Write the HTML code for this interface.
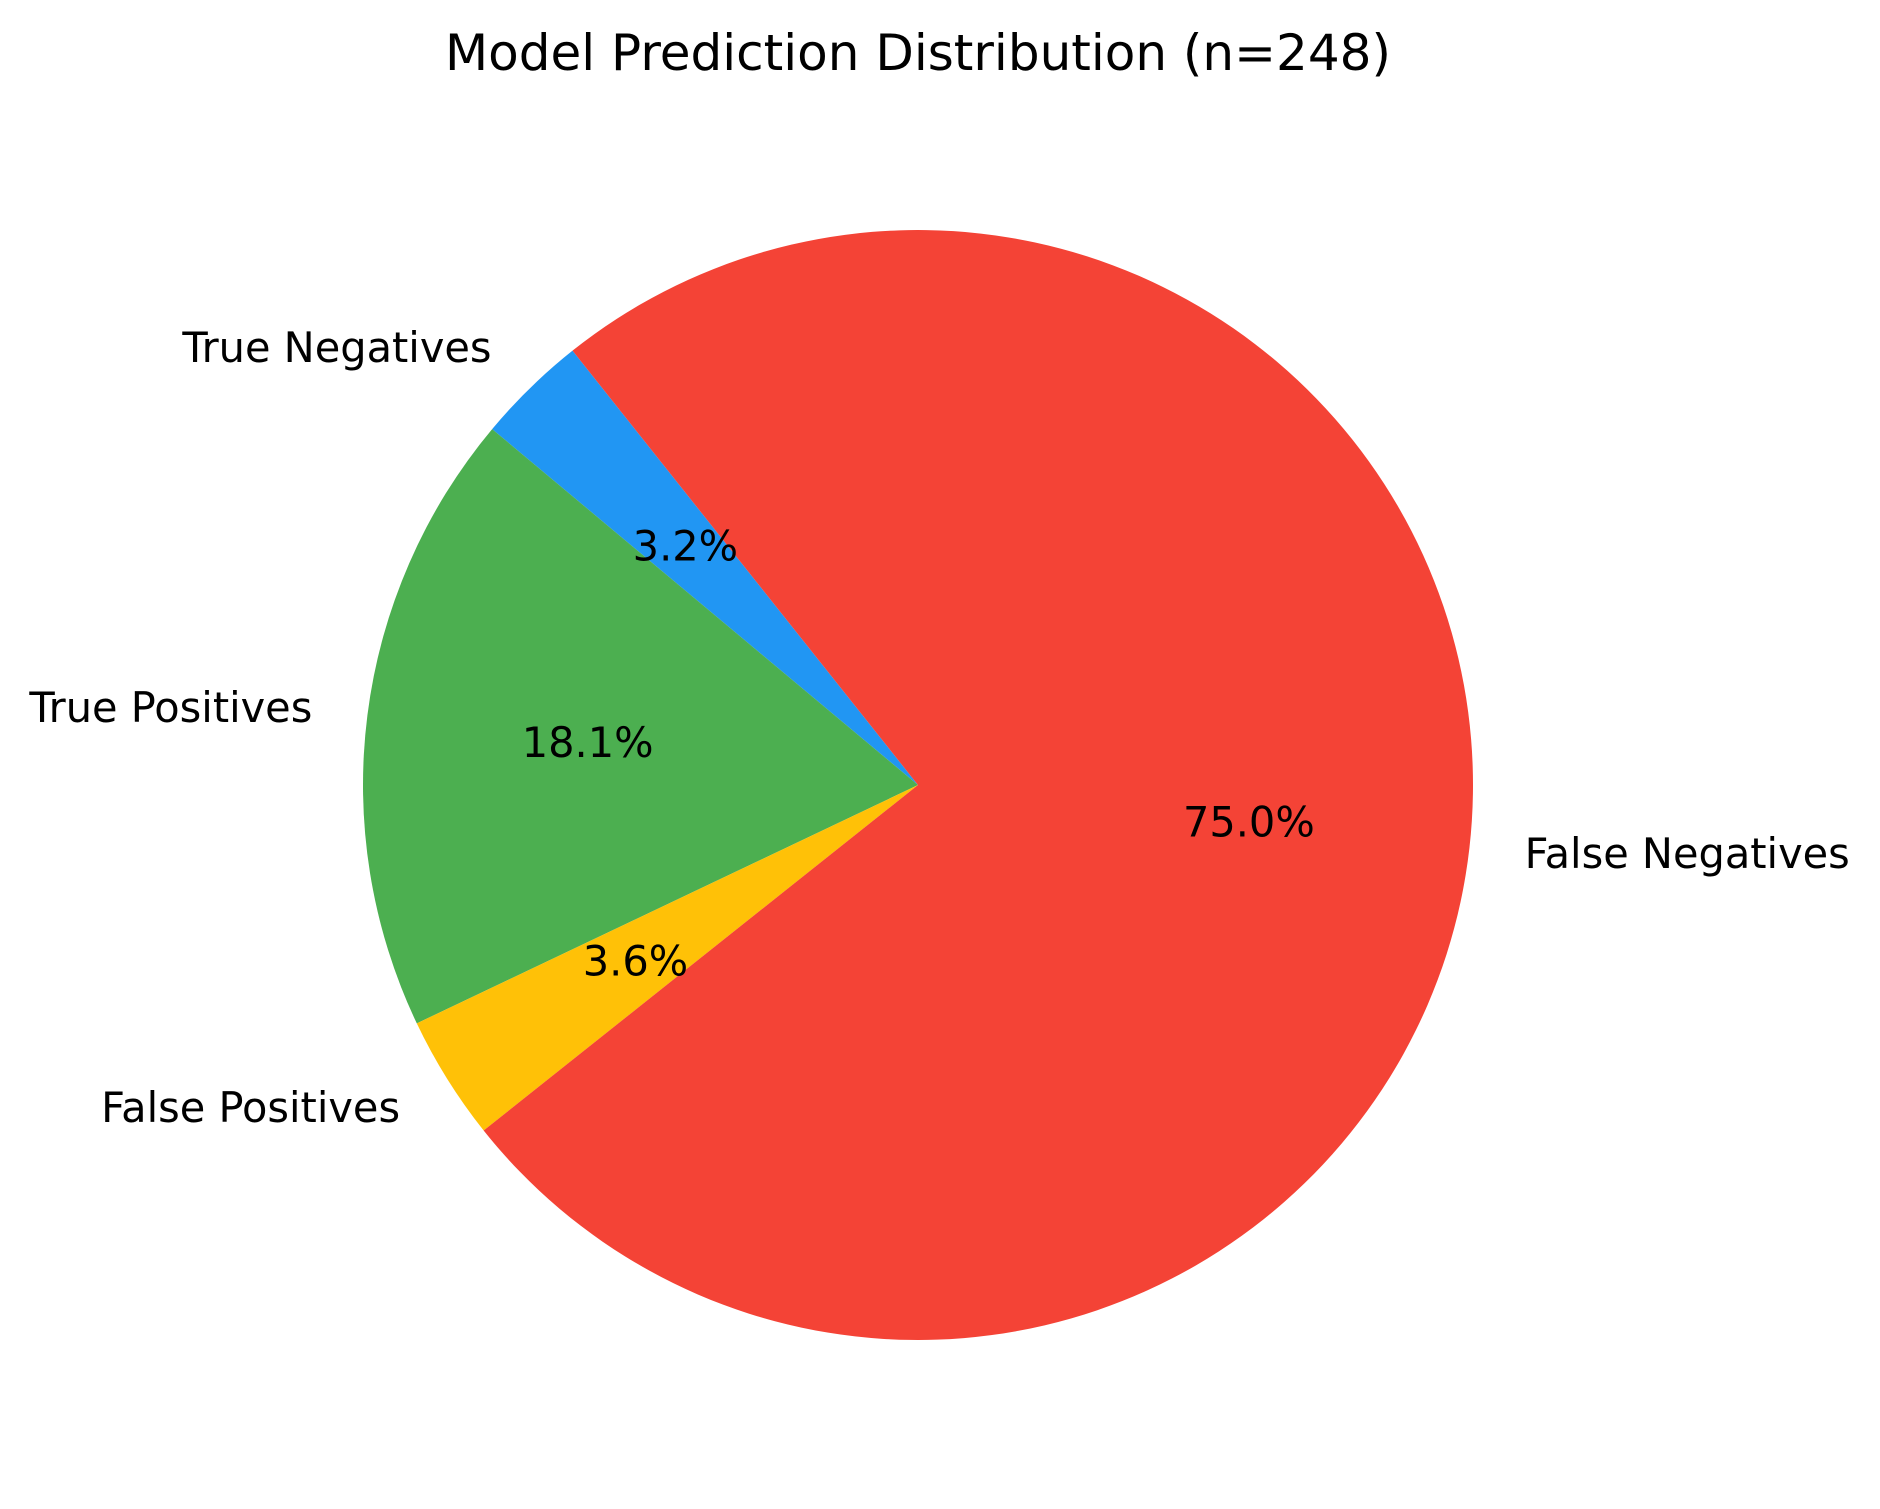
<!DOCTYPE html>
<html><head><meta charset="utf-8"><style>
body{margin:0;background:#fff}
svg{display:block}
text{font-family:"DejaVu Sans","Liberation Sans",sans-serif;fill:#000}
</style></head><body>
<svg id="chart" width="1880" height="1509" viewBox="0 0 1880 1509">
<text x="918" y="70" text-anchor="middle" font-size="50">Model Prediction Distribution (n=248)</text>
<g id="slices"></g><g id="labels"></g>
</svg>
<script>
const categories=["True Negatives","True Positives","False Positives","False Negatives"];
const values=[8,45,9,186];
const colors=["#2196F3","#4CAF50","#FFC107","#F44336"];
const startAngle=128.5;
const cx=918,cy=785,R=555;
const ns="http://www.w3.org/2000/svg";
const total=values.reduce((a,b)=>a+b,0);
const gS=document.getElementById('slices'),gL=document.getElementById('labels');
let a=startAngle;
function pt(deg,r){const t=deg*Math.PI/180;return [cx+r*Math.cos(t),cy-r*Math.sin(t)];}
values.forEach((v,i)=>{
  const sweep=v/total*360,a2=a+sweep;
  const p1=pt(a,R),p2=pt(a2,R);
  const path=document.createElementNS(ns,'path');
  path.setAttribute('d',`M${cx},${cy}L${p1[0]},${p1[1]}A${R},${R} 0 ${sweep>180?1:0} 0 ${p2[0]},${p2[1]}Z`);
  path.setAttribute('fill',colors[i]);
  
  
  gS.appendChild(path);
  const mid=(a+a2)/2;
  const lp=pt(mid,R*1.1);
  const lt=document.createElementNS(ns,'text');
  lt.setAttribute('x',lp[0]);lt.setAttribute('y',lp[1]+14);
  lt.setAttribute('font-size','41.5');
  lt.setAttribute('text-anchor',lp[0]<cx?'end':'start');
  lt.textContent=categories[i];
  
  
  gL.appendChild(lt);
  const pp=pt(mid,R*0.6);
  const pt2=document.createElementNS(ns,'text');
  pt2.setAttribute('x',pp[0]);pt2.setAttribute('y',pp[1]+14);
  pt2.setAttribute('font-size','41.5');
  pt2.setAttribute('text-anchor','middle');
  pt2.textContent=(v/total*100).toFixed(1)+'%';
  
  
  gL.appendChild(pt2);
  a=a2;
});
</script>
</body></html>
